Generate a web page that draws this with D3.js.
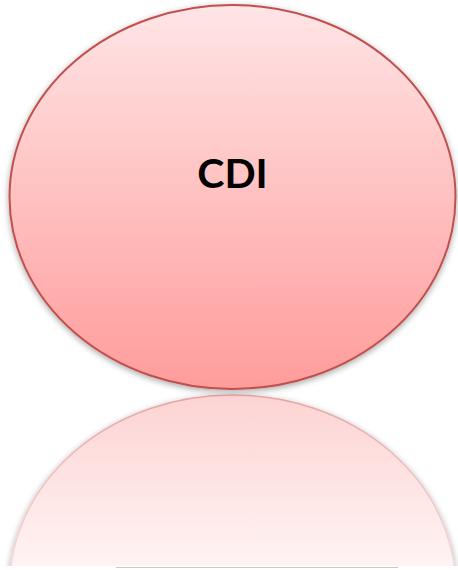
<!DOCTYPE html>
<html><head><meta charset="utf-8"/>
<script src="https://d3js.org/d3.v7.min.js"></script>
<style>
  body { margin: 0; padding: 0; background: #fff; width: 458px; height: 570px; overflow: hidden; }
  svg { display: block; }
</style>
</head><body>
<div id="chart"></div>
<script>
// one shape, one label
const labels = ["CDI"];
const fillStops = ["#ffe5e6", "#ff9c9b"];
const strokeColor = "#c0504d";

const W = 458, H = 570;
const svg = d3.select("#chart").append("svg").attr("width", W).attr("height", H);
const defs = svg.append("defs");

const grad = defs.append("linearGradient").attr("id", "fillGrad")
  .attr("x1", 0).attr("y1", 0).attr("x2", 0).attr("y2", 1);
grad.append("stop").attr("offset", "0%").attr("stop-color", fillStops[0]);
grad.append("stop").attr("offset", "100%").attr("stop-color", fillStops[1]);

// reflection gradient (user space, fades out downward)
const rgrad = defs.append("linearGradient").attr("id", "reflGrad")
  .attr("gradientUnits", "userSpaceOnUse")
  .attr("x1", 0).attr("y1", 395).attr("x2", 0).attr("y2", 566);
rgrad.append("stop").attr("offset", "0%").attr("stop-color", "#fdd3d3");
rgrad.append("stop").attr("offset", "100%").attr("stop-color", "#fff3f3");

const rstroke = defs.append("linearGradient").attr("id", "reflStroke")
  .attr("gradientUnits", "userSpaceOnUse")
  .attr("x1", 0).attr("y1", 395).attr("x2", 0).attr("y2", 566);
rstroke.append("stop").attr("offset", "0%").attr("stop-color", "#e6a4a4");
rstroke.append("stop").attr("offset", "100%").attr("stop-color", "#f5d8d8");

const shadow = defs.append("filter").attr("id", "shadow")
  .attr("x", "-10%").attr("y", "-10%").attr("width", "120%").attr("height", "125%");
shadow.append("feDropShadow").attr("dx", 0).attr("dy", 2).attr("stdDeviation", 3)
  .attr("flood-color", "#000").attr("flood-opacity", 0.35);

defs.append("clipPath").attr("id", "reflClip")
  .append("rect").attr("x", 0).attr("y", 392).attr("width", W).attr("height", 174);

const x = d3.scaleBand().domain(labels).range([9.5, 455.5]);
const y = d3.scaleLinear().domain([0, 1]).range([5, 389]);

const rx = x.bandwidth() / 2;
const ry = (y(1) - y(0)) / 2;
const cy = (y(0) + y(1)) / 2;
const mirror = y(1) + 3;

// reflection
svg.append("g").attr("clip-path", "url(#reflClip)")
  .selectAll("ellipse").data(labels).join("ellipse")
  .attr("cx", d => x(d) + rx)
  .attr("cy", 2 * mirror - cy)
  .attr("rx", rx).attr("ry", ry)
  .attr("fill", "url(#reflGrad)")
  .attr("stroke", "url(#reflStroke)")
  .attr("stroke-width", 1.5)
  .attr("filter", "url(#shadow)");

// baseline under the reflection
svg.append("line")
  .attr("x1", 116).attr("x2", 398).attr("y1", 567.5).attr("y2", 567.5)
  .attr("stroke", "#c8c8c8").attr("stroke-width", 1);

// main ellipse
svg.selectAll("ellipse.main").data(labels).join("ellipse")
  .attr("class", "main")
  .attr("cx", d => x(d) + rx)
  .attr("cy", cy)
  .attr("rx", rx).attr("ry", ry)
  .attr("fill", "url(#fillGrad)")
  .attr("stroke", strokeColor)
  .attr("stroke-width", 2)
  .attr("filter", "url(#shadow)");

svg.selectAll("text.label").data(labels).join("text")
  .attr("class", "label")
  .attr("x", d => x(d) + rx)
  .attr("y", 188)
  .attr("text-anchor", "middle")
  .style("font-family", "Lato, 'Open Sans', sans-serif")
  .style("font-weight", "bold")
  .style("font-size", "41px")
  .style("fill", "#000")
  .text(d => d);
</script>
</body></html>
